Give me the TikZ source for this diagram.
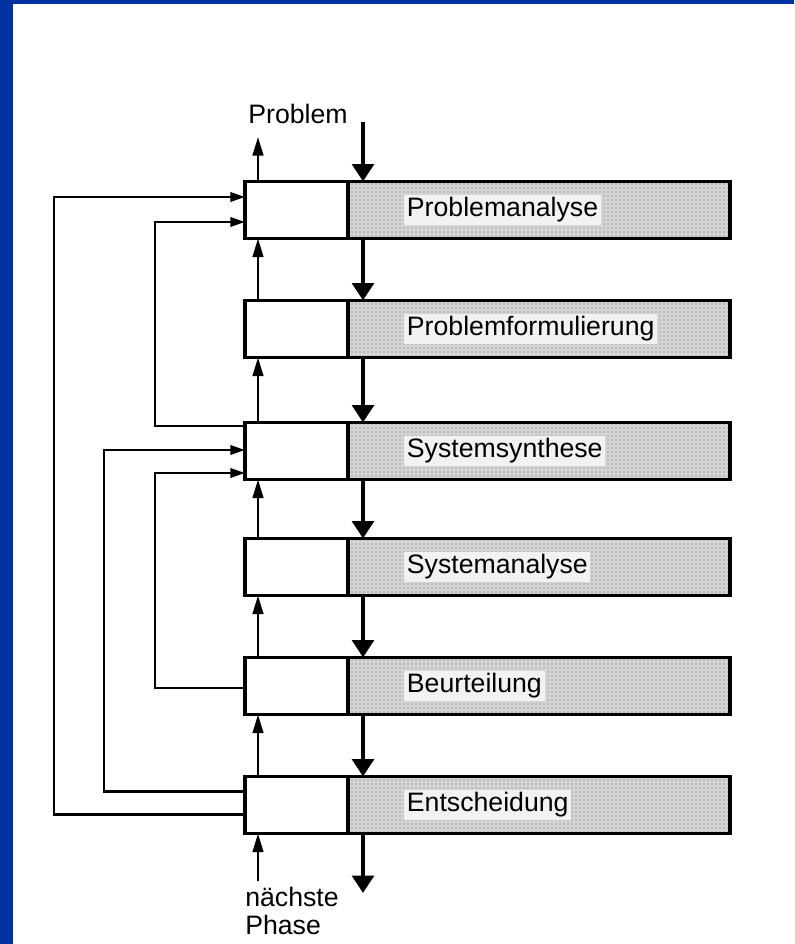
\documentclass[tikz,border=0pt]{standalone}
\usepackage{fontspec}
\setmainfont{Liberation Sans}
\usepackage{tikz}
\usetikzlibrary{arrows.meta, calc, patterns}
\definecolor{slblue}{HTML}{0033A0}
\definecolor{slgray}{HTML}{D4D4D4}

\begin{document}
\begin{tikzpicture}[x=0.75pt, y=-0.75pt, font=\fontsize{20}{21}\selectfont,
      lb/.style={draw, line width=2.4pt, fill=white, outer sep=0pt, inner sep=0pt, minimum width=77.25pt, minimum height=42.75pt},
      sb/.style={draw, line width=2.4pt, preaction={fill=slgray}, pattern=dots, pattern color=black!60, outer sep=0pt, inner sep=0pt, minimum width=286.5pt, minimum height=42.75pt, anchor=west},
      tx/.style={fill=black!5, inner sep=2pt, anchor=west},
      up/.style={line width=1.9pt, -{Triangle[length=14pt, width=8pt]}},
      dn/.style={line width=3.4pt, -{Triangle[length=13pt, width=16pt]}},
      fb/.style={line width=1.9pt, -{Triangle[length=11pt, width=7pt]}}]
      \useasboundingbox (0,0) rectangle (794,944);
      \fill[slblue] (0,0) rectangle (794,944);
      \fill[white] (13,4) rectangle (794,944);

      \foreach \i/\y/\lab in {1/210/Problemanalyse, 2/329/Problemformulierung, 3/451/Systemsynthese,
                              4/567/Systemanalyse, 5/686/Beurteilung, 6/805/Entscheidung} {
        \node[lb] (l\i) at (296.5,\y) {};
        \node[sb] (s\i) at (l\i.east) {};
        \node[tx] (t\i) at ($(s\i.west)+(56,0)$) {\lab};
      }
      \foreach \i [evaluate=\i as \j using int(\i+1)] in {1,...,5} {
        \draw[up] ($(l\j.north west)+(13,0)$) -- ($(l\i.south west)+(13,0)$);
        \draw[dn] ($(s\i.south west)+(15,0)$) -- ($(s\j.north west)+(15,0)$);
      }

      \node (prob) at (298,114) {Problem};
      \coordinate (pout) at (258,137);
      \coordinate (pin) at (363,122);
      \draw[up] ($(l1.north west)+(13,0)$) -- (pout);
      \draw[dn] (pin) -- ($(s1.north west)+(15,0)$);

      \node[align=left] (next) at (292,911) {nächste\\Phase};
      \coordinate (nin) at (258,881);
      \coordinate (nout) at (363,893);
      \draw[up] (nin) -- ($(l6.south west)+(13,0)$);
      \draw[dn] ($(s6.south west)+(15,0)$) -- (nout);

      \draw[fb] ($(l6.west)+(0,9.5)$) -- ++(-191,0) |- ($(l1.west)+(0,-13)$);
      \draw[fb] ($(l3.west)+(0,-25)$) -- ++(-90,0) |- ($(l1.west)+(0,12)$);
      \draw[fb] ($(l6.west)+(0,-13.5)$) -- ++(-141,0) |- ($(l3.west)+(0,-1)$);
      \draw[fb] ($(l5.west)+(0,2)$) -- ++(-90,0) |- ($(l3.west)+(0,22)$);
    \end{tikzpicture}
\end{document}
